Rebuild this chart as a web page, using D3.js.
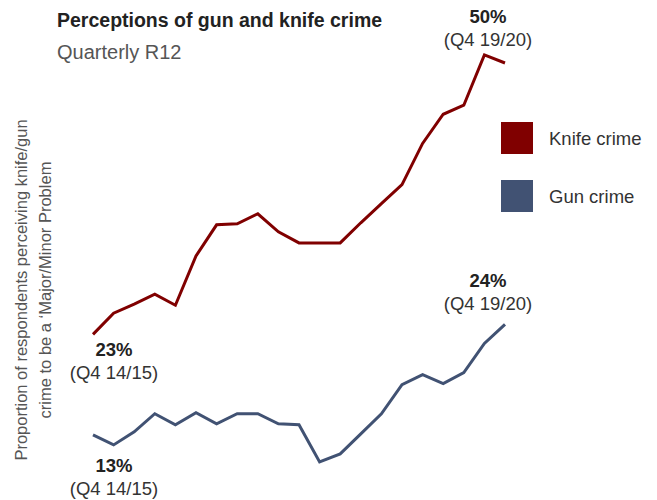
<!DOCTYPE html>
<html>
<head>
<meta charset="utf-8">
<script src="https://cdn.jsdelivr.net/npm/d3@7/dist/d3.min.js"></script>
<style>
  html, body { margin: 0; padding: 0; background: #fff; }
  svg { display: block; font-family: "Liberation Sans", Arial, sans-serif; }
</style>
</head>
<body>
<svg id="chart" width="657" height="500"></svg>
<script>
// Quarterly rolling-12-month periods, Q4 14/15 to Q4 19/20
const quarters = [
  "Q4 14/15", "Q1 15/16", "Q2 15/16", "Q3 15/16", "Q4 15/16",
  "Q1 16/17", "Q2 16/17", "Q3 16/17", "Q4 16/17",
  "Q1 17/18", "Q2 17/18", "Q3 17/18", "Q4 17/18",
  "Q1 18/19", "Q2 18/19", "Q3 18/19", "Q4 18/19",
  "Q1 19/20", "Q2 19/20", "Q3 19/20", "Q4 19/20"
];

// % perceiving knife crime as a major/minor problem
const knifeCrime = [
  23, 25.1, 26.0, 27.0, 25.9, 30.8, 33.9, 34.0, 35.0, 33.2, 32.1,
  32.1, 32.1, 34.1, 36.0, 37.9, 42.0, 44.9, 45.8, 50.8, 50
];

// % perceiving gun crime as a major/minor problem
const gunCrime = [
  13, 12.0, 13.3, 15.1, 14.0, 15.2, 14.1, 15.1, 15.1, 14.1, 14.0,
  10.3, 11.1, 13.1, 15.1, 18.0, 19.0, 18.1, 19.2, 22.1, 24
];

const seriesNames = ["Knife crime", "Gun crime"];
const seriesColors = ["#800000", "#415273"];

const svg = d3.select("#chart");

const x = d3.scalePoint().domain(quarters).range([93, 505]);
const y = d3.scaleLinear().domain([10, 52]).range([465, 42.9]);

const line = d3.line()
  .x((d, i) => x(quarters[i]))
  .y(d => y(d));

[knifeCrime, gunCrime].forEach((vals, k) => {
  svg.append("path")
    .datum(vals)
    .attr("fill", "none")
    .attr("stroke", seriesColors[k])
    .attr("stroke-width", 3)
    .attr("stroke-linejoin", "miter")
    .attr("d", line);
});

// Title and subtitle
svg.append("text")
  .attr("x", 57).attr("y", 27)
  .attr("font-size", 19.5).attr("font-weight", "bold").attr("fill", "#222")
  .text("Perceptions of gun and knife crime");
svg.append("text")
  .attr("x", 57).attr("y", 59)
  .attr("font-size", 20).attr("fill", "#555")
  .text("Quarterly R12");

// Vertical axis title
const yTitle = svg.append("text")
  .attr("transform", "translate(0,290) rotate(-90)")
  .attr("text-anchor", "middle")
  .attr("font-size", 16.5).attr("fill", "#555");
yTitle.append("tspan").attr("x", 0).attr("y", 27)
  .text("Proportion of respondents perceiving knife/gun");
yTitle.append("tspan").attr("x", 0).attr("y", 51)
  .text("crime to be a \u2018Major/Minor Problem");

// End-point annotations
function annotate(vals, idx, dx, dy) {
  const cx = x(quarters[idx]) + dx;
  const cy = y(vals[idx]) + dy;
  const g = svg.append("g").attr("text-anchor", "middle").attr("font-size", 18.5);
  g.append("text").attr("x", cx).attr("y", cy)
    .attr("font-weight", "bold").attr("fill", "#222")
    .text(d3.format(".0f")(vals[idx]) + "%");
  g.append("text").attr("x", cx).attr("y", cy + 23)
    .attr("fill", "#333")
    .text("(" + quarters[idx] + ")");
}
const last = quarters.length - 1;
annotate(knifeCrime, 0, 21, 22);
annotate(gunCrime, 0, 21, 37);
annotate(knifeCrime, last, -17, -40);
annotate(gunCrime, last, -17, -37);

// Legend
const legend = svg.append("g");
seriesNames.forEach((name, i) => {
  const ly = 122 + i * 58;
  legend.append("rect")
    .attr("x", 501).attr("y", ly).attr("width", 32).attr("height", 32)
    .attr("fill", seriesColors[i]);
  legend.append("text")
    .attr("x", 549).attr("y", ly + 23)
    .attr("font-size", 18.5).attr("fill", "#333")
    .text(name);
});
</script>
</body>
</html>
